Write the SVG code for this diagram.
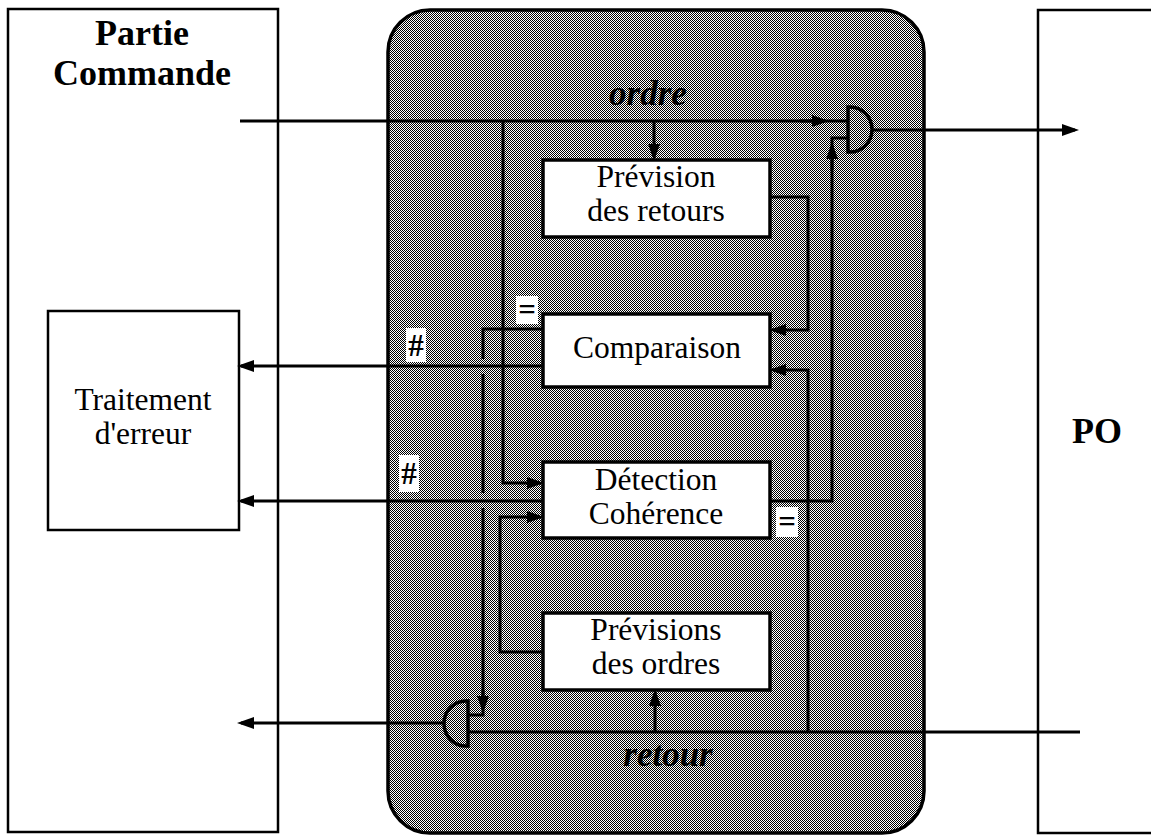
<svg xmlns="http://www.w3.org/2000/svg" width="1151" height="837" viewBox="0 0 1151 837">
  <defs>
    <!-- 1px checkerboard used as the grey screen of the monitoring block -->
    <pattern id="dither" width="2" height="2" patternUnits="userSpaceOnUse">
      <rect width="2" height="2" fill="#fff"/>
      <rect width="1" height="1" fill="#000"/>
      <rect x="1" y="1" width="1" height="1" fill="#000"/>
    </pattern>
    <marker id="arrow" markerUnits="userSpaceOnUse" viewBox="0 0 17 13" markerWidth="17" markerHeight="13" refX="13" refY="6.5" orient="auto">
      <path d="M0,0.5 L17,6.5 L0,12.5 Z" fill="#000"/>
    </marker>
    <style>
      .panel { fill: #fff; stroke: #000; stroke-width: 2.5; }
      .box { fill: #fff; stroke: #000; stroke-width: 3.5; }
      .wire { fill: none; stroke: #000; stroke-width: 3; }
      .arr { fill: none; stroke: #000; stroke-width: 3; marker-end: url(#arrow); }
      .gate { fill: url(#dither); stroke: #000; stroke-width: 3.5; }
      .serif { font-family: "Liberation Serif", "Times New Roman", serif; text-anchor: middle; fill: #000; }
      .title { font-size: 36px; font-weight: bold; }
      .lbl { font-size: 31.5px; }
      .bus { font-size: 35px; font-style: italic; font-weight: bold; }
      .tag { font-size: 31px; font-weight: bold; }
      .tagbg { fill: #fff; stroke: none; }
    </style>
  </defs>

  <rect width="1151" height="837" fill="#fff"/>

  <!-- Control part (left) -->
  <g id="partie-commande">
    <rect class="panel" x="8" y="9" width="270" height="823"/>
    <text class="serif title" x="142" y="45">Partie</text>
    <text class="serif title" x="142" y="85">Commande</text>
  </g>

  <g id="traitement-erreur">
    <rect class="panel" x="48" y="311" width="191" height="219"/>
    <text class="serif lbl" x="143" y="410">Traitement</text>
    <text class="serif lbl" x="143" y="444">d'erreur</text>
  </g>

  <!-- Operative part (right) -->
  <g id="po">
    <rect class="panel" x="1038" y="10" width="130" height="823"/>
    <text class="serif title" x="1097" y="443">PO</text>
  </g>

  <!-- Monitoring block -->
  <g id="surveillance">
    <rect x="388" y="10" width="536" height="823" rx="42" ry="42" fill="url(#dither)" stroke="#000" stroke-width="3.5"/>
    <text class="serif bus" x="648" y="105">ordre</text>
    <text class="serif bus" x="668" y="766">retour</text>
  </g>

  <!-- Connectors -->
  <g id="connectors">
    <!-- ordre bus -->
    <path class="wire" d="M240,121 H848"/>
    <path class="arr" d="M800,121 H825"/>
    <!-- gate output to PO -->
    <path class="arr" d="M872,130 H1075"/>
    <!-- ordre to Prévision des retours -->
    <path class="arr" d="M654,121 V157"/>
    <!-- ordre to Détection (upper input) -->
    <path class="arr" d="M503,121 V483 H540"/>
    <!-- Prévision des retours to Comparaison -->
    <path class="arr" d="M770,197 H808 V330 H773"/>
    <!-- retour to Comparaison -->
    <path class="arr" d="M808,732 V370 H773"/>
    <!-- Comparaison # to error handling -->
    <path class="arr" d="M543,366 H241"/>
    <!-- Détection # to error handling -->
    <path class="arr" d="M543,501 H241"/>
    <!-- Comparaison = to lower gate, with crossing hops -->
    <path class="wire" d="M543,329 H483 V359 M483,374 V493 M483,508 V715 H468"/>
    <path class="arr" d="M483,690 V709"/>
    <!-- Détection = to upper gate -->
    <path class="wire" d="M770,501 H832 V138 H848"/>
    <path class="arr" d="M832,170 V146"/>
    <!-- Prévisions des ordres to Détection (lower input) -->
    <path class="arr" d="M543,652 H500 V517 H540"/>
    <!-- retour bus -->
    <path class="wire" d="M1080,732 H468"/>
    <path class="arr" d="M655,732 V693"/>
    <!-- lower gate output to control part -->
    <path class="arr" d="M443,723 H241"/>
  </g>

  <!-- AND gates -->
  <g id="gate-ordre">
    <path class="gate" d="M848,107 H850 A22,22.5 0 0 1 850,152 H848 Z"/>
  </g>
  <g id="gate-retour">
    <path class="gate" d="M468,701 H466 A22,22.5 0 0 0 466,746 H468 Z"/>
  </g>

  <!-- Function boxes -->
  <g id="prevision-retours">
    <rect class="box" x="543" y="160" width="227" height="77"/>
    <text class="serif lbl" x="656" y="187">Prévision</text>
    <text class="serif lbl" x="656" y="221">des retours</text>
  </g>
  <g id="comparaison">
    <rect class="box" x="543" y="314" width="227" height="73"/>
    <text class="serif lbl" x="657" y="358">Comparaison</text>
  </g>
  <g id="detection-coherence">
    <rect class="box" x="543" y="462" width="227" height="76"/>
    <text class="serif lbl" x="656" y="490">Détection</text>
    <text class="serif lbl" x="656" y="524">Cohérence</text>
  </g>
  <g id="previsions-ordres">
    <rect class="box" x="543" y="613" width="227" height="77"/>
    <text class="serif lbl" x="656" y="640">Prévisions</text>
    <text class="serif lbl" x="656" y="674">des ordres</text>
  </g>

  <!-- Result tags -->
  <g id="tags">
    <rect class="tagbg" x="516" y="296" width="22" height="28"/>
    <text class="serif tag" x="527" y="320">=</text>
    <rect class="tagbg" x="406" y="328" width="20" height="34"/>
    <text class="serif tag" x="416" y="356">#</text>
    <rect class="tagbg" x="399" y="455" width="20" height="37"/>
    <text class="serif tag" x="409" y="484">#</text>
    <rect class="tagbg" x="776" y="507" width="22" height="30"/>
    <text class="serif tag" x="787" y="532">=</text>
  </g>
</svg>
